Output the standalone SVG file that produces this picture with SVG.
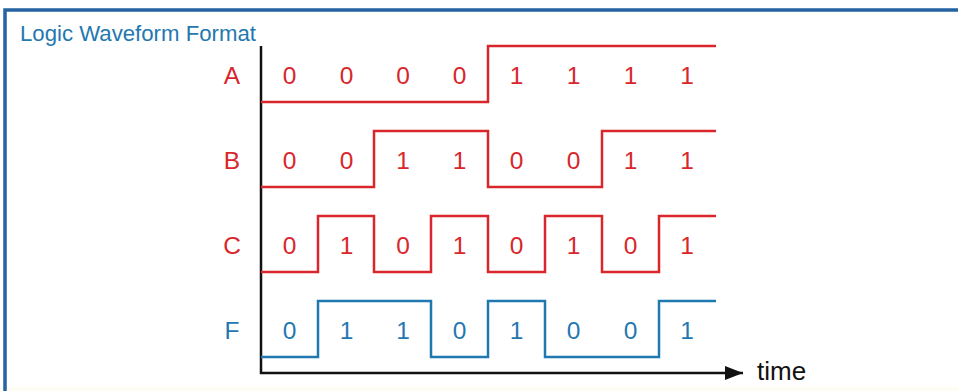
<svg xmlns="http://www.w3.org/2000/svg" width="958" height="391" viewBox="0 0 958 391">
<style>
  .frame{fill:none;stroke:#2563a3;stroke-width:3.5}
  .axis{fill:none;stroke:#111;stroke-width:2.5}
  .wave{fill:none;stroke-width:2.5;stroke-linejoin:miter}
  .red{stroke:#d8262c}
  .blue{stroke:#1f78b0}
  .t{font-family:"Liberation Sans",Arial,sans-serif;font-size:24.5px;text-anchor:middle}
  .tr{fill:#d8262c}
  .tb{fill:#1f78b0}
  .title{font-family:"Liberation Sans",Arial,sans-serif;font-size:22.2px;fill:#2478b0}
  .time{font-family:"Liberation Sans",Arial,sans-serif;font-size:26px;fill:#111}
</style>
<defs>
  <marker id="arrow" viewBox="0 0 18 14" refX="18" refY="7" markerWidth="18" markerHeight="14" markerUnits="userSpaceOnUse" orient="auto">
    <path d="M0,0 L18,7 L0,14 Z" fill="#111"/>
  </marker>
</defs>
<rect width="958" height="391" fill="#ffffff"/>
<rect x="0" y="387" width="958" height="4" fill="#fdfdf4"/>
<path class="frame" d="M5,391 V10 H958"/>
<text class="title" x="20" y="40.5">Logic Waveform Format</text>

<g id="axes">
  <line class="axis" x1="261" y1="46" x2="261" y2="374"/>
  <line class="axis" x1="260" y1="373" x2="743" y2="373" marker-end="url(#arrow)"/>
  <text class="time" x="757" y="380">time</text>
</g>

<g id="connectors">
  <path class="wave red" d="M261,102 H488 V46 H716"/>
  <path class="wave red" d="M261,187 H374 V131 H488 V187 H602 V131 H716"/>
  <path class="wave red" d="M261,272 H318 V216 H374 V272 H431 V216 H488 V272 H545 V216 H602 V272 H659 V216 H716"/>
  <path class="wave blue" d="M261,357 H318 V301 H431 V357 H488 V301 H545 V357 H659 V301 H716"/>
</g>

<g id="row-A">
  <text class="t tr" x="232" y="83.5">A</text>
  <text class="t tr" x="289.5" y="83.5">0</text>
  <text class="t tr" x="346.5" y="83.5">0</text>
  <text class="t tr" x="403" y="83.5">0</text>
  <text class="t tr" x="459.5" y="83.5">0</text>
  <text class="t tr" x="516.5" y="83.5">1</text>
  <text class="t tr" x="573.5" y="83.5">1</text>
  <text class="t tr" x="630.5" y="83.5">1</text>
  <text class="t tr" x="687" y="83.5">1</text>
</g>
<g id="row-B">
  <text class="t tr" x="232" y="168.5">B</text>
  <text class="t tr" x="289.5" y="168.5">0</text>
  <text class="t tr" x="346.5" y="168.5">0</text>
  <text class="t tr" x="403" y="168.5">1</text>
  <text class="t tr" x="459.5" y="168.5">1</text>
  <text class="t tr" x="516.5" y="168.5">0</text>
  <text class="t tr" x="573.5" y="168.5">0</text>
  <text class="t tr" x="630.5" y="168.5">1</text>
  <text class="t tr" x="687" y="168.5">1</text>
</g>
<g id="row-C">
  <text class="t tr" x="232" y="253.5">C</text>
  <text class="t tr" x="289.5" y="253.5">0</text>
  <text class="t tr" x="346.5" y="253.5">1</text>
  <text class="t tr" x="403" y="253.5">0</text>
  <text class="t tr" x="459.5" y="253.5">1</text>
  <text class="t tr" x="516.5" y="253.5">0</text>
  <text class="t tr" x="573.5" y="253.5">1</text>
  <text class="t tr" x="630.5" y="253.5">0</text>
  <text class="t tr" x="687" y="253.5">1</text>
</g>
<g id="row-F">
  <text class="t tb" x="232" y="338.5">F</text>
  <text class="t tb" x="289.5" y="338.5">0</text>
  <text class="t tb" x="346.5" y="338.5">1</text>
  <text class="t tb" x="403" y="338.5">1</text>
  <text class="t tb" x="459.5" y="338.5">0</text>
  <text class="t tb" x="516.5" y="338.5">1</text>
  <text class="t tb" x="573.5" y="338.5">0</text>
  <text class="t tb" x="630.5" y="338.5">0</text>
  <text class="t tb" x="687" y="338.5">1</text>
</g>
</svg>
